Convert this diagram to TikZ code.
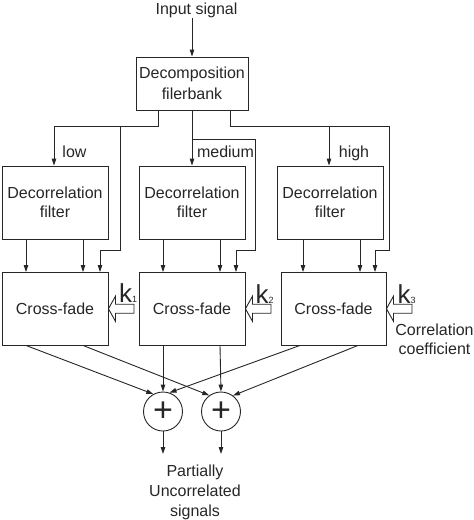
\documentclass[tikz,border=0pt]{standalone}
\usepackage{fontspec}
\setmainfont{Liberation Sans}
\usetikzlibrary{arrows.meta}
\definecolor{ink}{HTML}{262626}
\begin{document}
\begin{tikzpicture}[x=1pt,y=-1pt,
  every node/.style={text=ink},
  line/.style={draw=ink,line width=0.9pt},
  arr/.style={line,-{Triangle[length=7pt,width=4.5pt]}},
  blk/.style={line,rectangle,inner sep=0pt,align=center,font=\fontsize{16}{19}\selectfont},
  lbl/.style={inner sep=0pt,font=\fontsize{16}{19}\selectfont},
  sumc/.style={line,circle,minimum size=39pt,inner sep=0pt,font=\fontsize{34}{34}\selectfont},
  hollow/.style={line,line join=miter}
]
\useasboundingbox (0,0) rectangle (474,520);

% input
\node[lbl,anchor=base] (in) at (196.5,14) {Input signal};
\node[blk,minimum width=112pt,minimum height=53pt,font=\fontsize{16}{20.5}\selectfont] (dec) at (192,83.5) {Decomposition\\filerbank};
\coordinate (inarr) at (192,18);
\draw[arr] (inarr) -- (dec.north);

% decorrelation filters
\node[blk,minimum width=106pt,minimum height=73pt] (dl) at (55,202.5) {Decorrelation\\filter};
\node[blk,minimum width=106pt,minimum height=73pt] (dm) at (192,202.5) {Decorrelation\\filter};
\node[blk,minimum width=106pt,minimum height=73pt] (dr) at (330,202.5) {Decorrelation\\filter};

% cross-fades
\node[blk,minimum width=106pt,minimum height=72.5pt] (cl) at (55,308.75) {Cross-fade};
\node[blk,minimum width=106pt,minimum height=72.5pt] (cm) at (192,308.75) {Cross-fade};
\node[blk,minimum width=105pt,minimum height=72.5pt] (cr) at (333.5,308.75) {Cross-fade};

% band labels
\node[lbl,anchor=base] (llow) at (74.5,157) {low};
\node[lbl,anchor=base] (lmed) at (225.5,157) {medium};
\node[lbl,anchor=base] (lhigh) at (354,157) {high};

% decomposition outputs
\coordinate (a1) at (158,126);
\coordinate (a2) at (54,126);
\coordinate (a3) at (120,126);
\coordinate (a4) at (120,250);
\coordinate (a5) at (100,250);
\draw[line] (dec.south -| a1) -- (a1) -- (a2);
\draw[arr] (a2) -- (dl.north -| a2);
\draw[line] (a3) -- (a4) -- (a5);
\draw[arr] (a5) -- (cl.north -| a5);

\coordinate (b1) at (192,139);
\coordinate (b2) at (255,139);
\coordinate (b3) at (255,250);
\coordinate (b4) at (236,250);
\draw[arr] (dec.south) -- (dm.north);
\draw[line] (b1) -- (b2) -- (b3) -- (b4);
\draw[arr] (b4) -- (cm.north -| b4);

\coordinate (r1) at (230,126);
\coordinate (r2) at (389,126);
\coordinate (r3) at (389,250);
\coordinate (r4) at (375,250);
\coordinate (r5) at (329,126);
\draw[line] (dec.south -| r1) -- (r1) -- (r2) -- (r3) -- (r4);
\draw[arr] (r4) -- (cr.north -| r4);
\draw[arr] (r5) -- (dr.north -| r5);

% decorrelation -> cross-fade
\coordinate (x1) at (26,0);
\coordinate (x2) at (83,0);
\coordinate (x3) at (163,0);
\coordinate (x4) at (220,0);
\coordinate (x5) at (303,0);
\coordinate (x6) at (360,0);
\draw[arr] (dl.south -| x1) -- (cl.north -| x1);
\draw[arr] (dl.south -| x2) -- (cl.north -| x2);
\draw[arr] (dm.south -| x3) -- (cm.north -| x3);
\draw[arr] (dm.south -| x4) -- (cm.north -| x4);
\draw[arr] (dr.south -| x5) -- (cr.north -| x5);
\draw[arr] (dr.south -| x6) -- (cr.north -| x6);

% hollow arrows with k labels
\foreach \n in {cl,cm,cr}{
  \draw[hollow] (\n.east) -- ++(7,-12.5) -- ++(0,8) -- ++(18.5,0) -- ++(0,9) -- ++(-18.5,0) -- ++(0,8) -- cycle;
}
\node[inner sep=0pt,anchor=base west] (k1) at (119,302.5) {\fontsize{26}{26}\selectfont k\fontsize{9}{9}\selectfont 1};
\node[inner sep=0pt,anchor=base west] (k2) at (255.5,303) {\fontsize{26}{26}\selectfont k\fontsize{9}{9}\selectfont 2};
\node[inner sep=0pt,anchor=base west] (k3) at (397.5,303) {\fontsize{26}{26}\selectfont k\fontsize{9}{9}\selectfont 3};
\node[lbl,anchor=north,align=center] (corr) at (434.5,323.4) {Correlation\\coefficient};

% summation
\node[sumc] (s1) at (163,411.5) {+};
\node[sumc] (s2) at (221,411.5) {+};
\coordinate (y1) at (300,0);
\coordinate (y2) at (358,0);
\draw[arr] (cl.south -| x1) -- (s1.119);
\draw[arr] (cl.south -| x2) -- (s2.126);
\draw[arr] (cm.south -| x3) -- (s1.north);
\draw[arr] (cm.south -| x4) -- (s2.north);
\draw[arr] (cr.south -| y1) -- (s1.71);
\draw[arr] (cr.south -| y2) -- (s2.53);

\coordinate (o1) at (163,454);
\coordinate (o2) at (221,454);
\draw[arr] (s1.south) -- (o1);
\draw[arr] (s2.south) -- (o2);
\node[lbl,anchor=north,align=center,font=\fontsize{16}{20}\selectfont] (out) at (195,465) {Partially\\Uncorrelated\\signals};
\end{tikzpicture}
\end{document}
